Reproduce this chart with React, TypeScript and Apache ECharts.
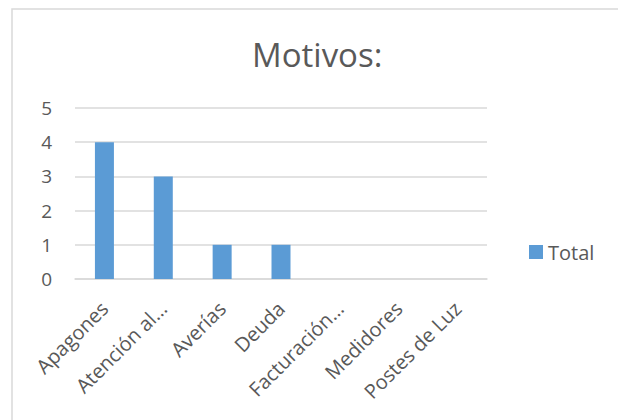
import React, { useEffect, useRef } from "react";
import * as echarts from "echarts";

const categories = ["Apagones", "Atención al…", "Averías", "Deuda", "Facturación…", "Medidores", "Postes de Luz"];
const totals = [4, 3, 1, 1, 0, 0, 0];
const yTicks = [0, 1, 2, 3, 4, 5];
const seriesName = "Total";
const titleText = "Motivos:";

export default function App() {
  const ref = useRef<HTMLDivElement>(null);
  useEffect(() => {
    if (!ref.current) return;
    const chart = echarts.init(ref.current, undefined, { renderer: "svg" });
    const font = "'Open Sans', sans-serif";
    chart.setOption({
      animation: false,
      backgroundColor: "#ffffff",
      title: {
        text: titleText,
        left: 247,
        top: 33,
        textStyle: { fontFamily: font, fontSize: 33, fontWeight: "normal", color: "#595959" },
      },
      graphic: [
        {
          type: "rect",
          shape: { x: 12, y: 9, width: 640, height: 440 },
          style: { fill: "none", stroke: "#d9d9d9", lineWidth: 1.5 },
          silent: true,
          z: -1,
        },
      ],
      legend: {
        data: [seriesName],
        left: 524,
        top: 237,
        itemWidth: 14,
        itemHeight: 14,
        itemGap: 6,
        icon: "rect",
        textStyle: { fontFamily: font, fontSize: 20, color: "#595959" },
      },
      grid: { left: 75, right: 131, top: 108, bottom: 141, containLabel: false },
      xAxis: {
        type: "category",
        data: categories,
        axisLine: { lineStyle: { color: "#d9d9d9", width: 1.5 } },
        axisTick: { show: false },
        axisLabel: {
          rotate: 45,
          margin: 26,
          interval: 0,
          fontFamily: font,
          fontSize: 20,
          color: "#595959",
        },
      },
      yAxis: {
        type: "value",
        min: yTicks[0],
        max: yTicks[yTicks.length - 1],
        interval: 1,
        axisLine: { show: false },
        axisTick: { show: false },
        splitLine: { lineStyle: { color: "#d9d9d9", width: 1.5 } },
        axisLabel: { fontFamily: font, fontSize: 19, color: "#595959", margin: 23 },
      },
      series: [
        {
          name: seriesName,
          type: "bar",
          data: totals,
          barWidth: 19,
          itemStyle: { color: "#5b9bd5" },
        },
      ],
    });
    return () => chart.dispose();
  }, []);
  return <div ref={ref} style={{ position: "fixed", left: 0, top: 0, width: 618, height: 420 }} />;
}
